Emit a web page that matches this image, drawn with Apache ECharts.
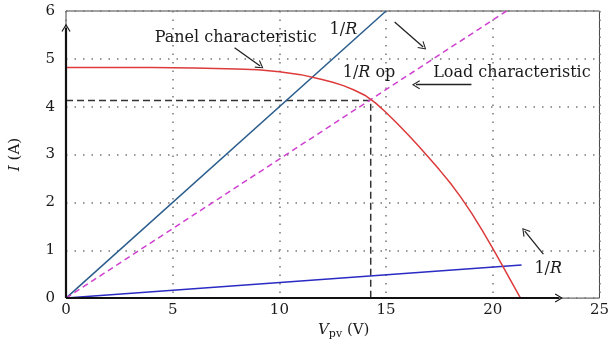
<!DOCTYPE html>
<html>
<head>
<meta charset="utf-8">
<script src="https://cdn.jsdelivr.net/npm/echarts@6/dist/echarts.min.js"></script>
<style>
  html, body { margin: 0; padding: 0; background: #fff; }
  #chart { width: 612px; height: 345px; }
</style>
</head>
<body>
<div id="chart"></div>
<script>
// panel I-V curve
const panelV = [0, 2, 4, 6, 8, 9, 10, 11, 12, 12.5, 13, 13.5, 14, 14.5, 15, 15.5, 16, 16.5, 17, 17.5, 18, 18.5, 19, 19.5, 20, 20.5, 21, 21.3]
const panelI = [4.82, 4.82, 4.82, 4.81, 4.79, 4.77, 4.73, 4.67, 4.57, 4.51, 4.44, 4.35, 4.24, 4.08, 3.88, 3.66, 3.43, 3.19, 2.94, 2.68, 2.41, 2.11, 1.78, 1.42, 1.04, 0.64, 0.24, 0]

// load lines through the origin: steep 1/R, operating 1/R (dashed), shallow 1/R
const loadEndV = [15, 20.65, 21.35]
const loadEndI = [6, 6, 0.69]

// operating point
const opV = 14.28
const opI = 4.13

const xTicks = [0, 5, 10, 15, 20, 25]
const yTicks = [0, 1, 2, 3, 4, 5, 6]

// annotations (data coords)
const noteText = ['Panel characteristic', '1/{it|R}', '1/{it|R} op', 'Load characteristic', '1/{it|R}']
const noteV = [7.95, 13.0, 14.2, 20.9, 22.6]
const noteI = [5.44, 5.6, 4.7, 4.7, 0.62]

const arrowFrom = [[7.9, 5.23], [15.4, 5.77], [19.0, 4.46], [22.37, 0.92]]
const arrowTo = [[9.1, 4.85], [16.74, 5.25], [16.4, 4.46], [21.5, 1.40]]

const serif = 'DejaVu Serif'
const chevron = 'path://M0,10 L5,0 L10,10 L8.9,10.7 L5,2.6 L1.1,10.7 Z'

const chart = echarts.init(document.getElementById('chart'))

const pairs = (xs, ys) => xs.map((x, i) => [x, ys[i]])

const loadColors = ['#2b5d8c', '#d040d0', '#2a2ac4']
const ink = '#1a1a1a'

chart.setOption({
  animation: false,
  textStyle: { fontFamily: serif },
  grid: {
    left: 66, right: 9, top: 11, bottom: 46,
    show: true, borderColor: '#444', borderWidth: 1
  },
  xAxis: {
    type: 'value',
    min: xTicks[0], max: xTicks[xTicks.length - 1], interval: 5,
    axisLine: { show: false },
    axisTick: { show: false },
    axisLabel: { fontSize: 15, color: ink, margin: 5, fontFamily: serif },
    splitLine: { show: true, lineStyle: { color: '#777', type: [1.5, 7], width: 1.5 } },
    name: '{v|V}{s|pv} (V)',
    nameLocation: 'middle',
    nameGap: 22,
    nameTextStyle: {
      fontSize: 15, color: ink, fontFamily: serif, padding: [0, 0, 0, 22],
      rich: {
        v: { fontSize: 15, fontStyle: 'italic', fontFamily: serif, color: ink },
        s: { fontSize: 11, fontFamily: serif, color: ink, padding: [8, 0, 0, 0] }
      }
    }
  },
  yAxis: {
    type: 'value',
    min: yTicks[0], max: yTicks[yTicks.length - 1], interval: 1,
    axisLine: { show: false },
    axisTick: { show: false },
    axisLabel: { fontSize: 15, color: ink, margin: 11, fontFamily: serif },
    splitLine: { show: true, lineStyle: { color: '#777', type: [1.5, 7], width: 1.5 } },
    name: '{it|I} (A)',
    nameLocation: 'middle',
    nameGap: 43,
    nameTextStyle: {
      fontSize: 15, color: ink, fontFamily: serif,
      rich: { it: { fontSize: 15, fontStyle: 'italic', fontFamily: serif, color: ink } }
    }
  },
  series: [
    {
      type: 'line',
      name: 'panel',
      data: pairs(panelV, panelI),
      showSymbol: false,
      lineStyle: { color: '#dd3b3b', width: 1.5 },
      z: 4
    },
    ...loadEndV.map((v, i) => ({
      type: 'line',
      data: [[0, 0], [v, loadEndI[i]]],
      showSymbol: false,
      lineStyle: { color: loadColors[i], width: 1.5, type: i === 1 ? [6, 4] : 'solid' },
      z: 3
    })),
    {
      type: 'line',
      name: 'op',
      data: [[0, opI], [opV, opI], [opV, 0]],
      showSymbol: false,
      lineStyle: { color: '#333', width: 1.5, type: [7, 4] },
      z: 2
    },
    {
      type: 'scatter',
      data: noteText.map((t, i) => [noteV[i], noteI[i], t]),
      symbolSize: 0,
      silent: true,
      itemStyle: { opacity: 1 },
      label: {
        show: true,
        position: 'inside',
        formatter: p => p.value[2],
        fontSize: 16,
        fontFamily: serif,
        color: ink,
        rich: { it: { fontSize: 16, fontStyle: 'italic', fontFamily: serif, color: ink } }
      },
      z: 6
    },
    {
      type: 'line',
      data: [],
      markLine: {
        silent: true,
        animation: false,
        symbol: ['none', chevron],
        symbolSize: [9, 8],
        label: { show: false },
        lineStyle: { color: '#222', width: 1.3, type: 'solid' },
        data: arrowFrom.map((a, i) => [{ coord: a }, { coord: arrowTo[i] }])
          .concat([
            [{ coord: [0, 0], lineStyle: { width: 2.2, color: '#111' } }, { coord: [0, 5.65] }],
            [{ coord: [0, 0], lineStyle: { width: 2.2, color: '#111' } }, { coord: [23.1, 0] }]
          ])
      },
      z: 7
    }
  ]
})
</script>
</body>
</html>
